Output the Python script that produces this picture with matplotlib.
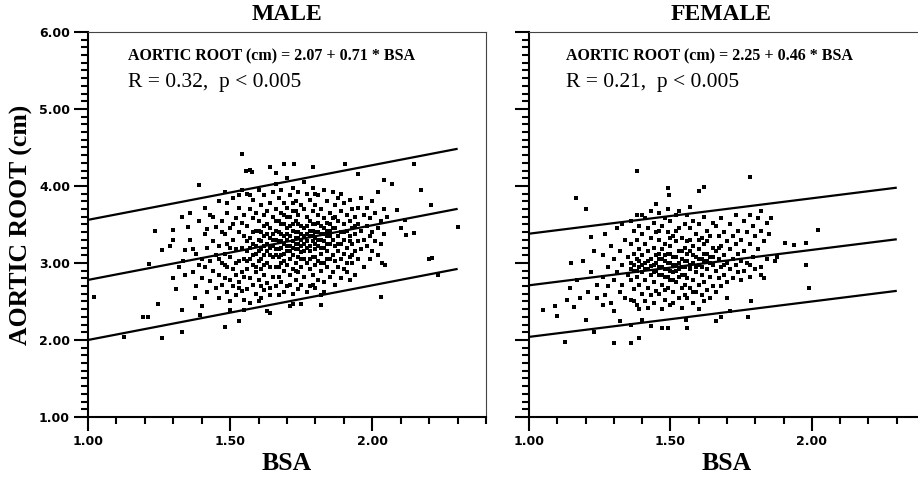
import numpy as np
import matplotlib
matplotlib.use('AGG')
import matplotlib.pyplot as plt
from matplotlib.collections import LineCollection
from matplotlib.ticker import FixedLocator, FormatStrFormatter, NullFormatter, NullLocator

# ---- data ----
panel_titles = ["MALE", "FEMALE"]
equations = ["AORTIC ROOT (cm) = 2.07 + 0.71 * BSA", "AORTIC ROOT (cm) = 2.25 + 0.46 * BSA"]
stats_text = ["R = 0.32,  p < 0.005", "R = 0.21,  p < 0.005"]

male_intercept, male_slope, male_band = 2.07, 0.71, 0.78
female_intercept, female_slope, female_band = 2.25, 0.46, 0.67
fit_bsa_range = [1.00, 2.30]

xtick_major = [1.00, 1.50, 2.00]
ytick_major = [1.00, 2.00, 3.00, 4.00, 5.00, 6.00]

# male (BSA, aortic root) - outliers first, then the cloud
male_points = [
    (1.02, 2.56), (1.125, 2.04), (1.26, 2.03), (1.33, 2.11), (1.195, 2.30), (1.21, 2.30),
    (1.245, 2.47), (1.33, 2.39), (1.235, 3.42), (1.26, 3.17), (1.215, 2.99), (1.30, 3.43),
    (1.30, 3.30), (1.35, 3.47), (1.39, 4.01), (1.335, 3.02), (1.34, 3.17), (1.31, 2.66),
    (1.375, 2.54), (1.395, 2.32), (1.40, 2.44), (1.48, 2.17), (1.53, 2.25), (1.54, 4.42),
    (1.555, 4.19), (1.57, 4.21), (1.575, 4.18), (1.64, 4.25), (1.66, 4.17), (1.69, 4.29),
    (1.725, 4.28), (1.79, 4.25), (1.905, 4.29), (1.95, 4.16), (2.145, 4.29), (2.04, 4.08),
    (2.07, 4.03), (2.17, 3.95), (2.205, 3.75), (2.30, 3.47), (2.087, 3.69), (2.116, 3.56),
    (2.10, 3.45), (2.12, 3.36), (2.145, 3.39), (2.21, 3.06), (2.20, 3.05), (2.23, 2.84),
    (2.03, 2.56), (2.035, 3.00), (2.045, 2.97), (1.75, 2.47), (1.71, 2.44), (1.72, 2.47),
    (1.82, 2.46), (1.63, 2.37), (1.64, 2.35), (1.50, 2.39), (1.55, 2.39), (1.29, 3.22),
    (1.32, 2.95), (1.33, 3.60), (1.30, 2.80), (1.34, 2.85),
    (1.36, 3.30), (1.37, 2.88), (1.38, 3.12), (1.38, 2.70), (1.39, 3.55), (1.40, 3.05),
    (1.40, 2.80), (1.41, 3.38), (1.41, 2.95), (1.42, 3.20), (1.42, 2.62), (1.43, 3.62),
    (1.43, 3.02), (1.43, 2.76), (1.44, 3.28), (1.44, 2.90), (1.45, 3.47), (1.45, 3.10),
    (1.45, 2.68), (1.36, 3.65), (1.39, 2.98), (1.41, 3.72), (1.42, 3.44), (1.44, 3.60),
    (1.37, 3.18),
    (1.46, 3.80), (1.46, 3.22), (1.46, 2.85), (1.46, 2.55), (1.47, 3.55), (1.47, 3.00),
    (1.47, 2.72), (1.48, 3.92), (1.48, 3.38), (1.48, 3.12), (1.48, 2.80), (1.49, 3.65),
    (1.49, 3.25), (1.49, 2.95), (1.49, 2.62), (1.50, 3.45), (1.50, 3.08), (1.50, 2.78),
    (1.50, 2.50), (1.51, 3.85), (1.51, 3.30), (1.51, 2.92), (1.51, 2.70), (1.52, 3.58),
    (1.52, 3.18), (1.52, 2.85), (1.52, 2.58), (1.53, 3.72), (1.53, 3.40), (1.53, 3.02),
    (1.53, 2.75), (1.54, 3.95), (1.54, 3.52), (1.54, 3.20), (1.54, 2.88), (1.54, 2.64),
    (1.55, 3.62), (1.55, 3.35), (1.55, 3.05), (1.55, 2.82), (1.47, 3.40), (1.49, 3.78),
    (1.50, 3.20), (1.52, 3.00), (1.53, 2.68), (1.55, 2.52), (1.46, 3.05), (1.51, 3.50),
    (1.53, 3.88), (1.48, 2.98),
    (1.56, 3.90), (1.56, 3.48), (1.56, 3.15), (1.56, 2.92), (1.56, 2.66), (1.57, 3.70),
    (1.57, 3.32), (1.57, 3.05), (1.57, 2.80), (1.57, 2.48), (1.58, 3.82), (1.58, 3.58),
    (1.58, 3.25), (1.58, 2.98), (1.58, 2.72), (1.59, 3.65), (1.59, 3.42), (1.59, 3.12),
    (1.59, 2.88), (1.59, 2.60), (1.60, 3.95), (1.60, 3.55), (1.60, 3.30), (1.60, 3.02),
    (1.60, 2.78), (1.61, 3.75), (1.61, 3.40), (1.61, 3.18), (1.61, 2.92), (1.61, 2.55),
    (1.62, 3.88), (1.62, 3.62), (1.62, 3.35), (1.62, 3.10), (1.62, 2.85), (1.62, 2.65),
    (1.63, 3.50), (1.63, 3.24), (1.63, 3.00), (1.63, 2.74), (1.64, 3.78), (1.64, 3.45),
    (1.64, 3.20), (1.64, 2.95), (1.64, 2.68), (1.65, 3.92), (1.65, 3.60), (1.65, 3.30),
    (1.65, 3.08), (1.65, 2.82), (1.56, 3.28), (1.57, 3.88), (1.58, 3.40), (1.59, 3.22),
    (1.60, 3.15), (1.60, 2.50), (1.61, 3.28), (1.62, 3.22), (1.63, 3.68), (1.63, 3.38),
    (1.64, 3.10), (1.65, 3.38), (1.58, 3.10), (1.59, 2.95), (1.61, 3.05), (1.62, 2.98),
    (1.63, 3.15), (1.64, 3.32), (1.65, 3.22), (1.57, 3.20), (1.60, 3.42), (1.62, 3.48),
    (1.64, 2.58), (1.56, 3.02), (1.61, 2.70),
    (1.66, 4.02), (1.66, 3.70), (1.66, 3.42), (1.66, 3.18), (1.66, 2.95), (1.66, 2.70),
    (1.67, 3.85), (1.67, 3.55), (1.67, 3.28), (1.67, 3.08), (1.67, 2.82), (1.67, 2.58),
    (1.68, 3.95), (1.68, 3.65), (1.68, 3.38), (1.68, 3.20), (1.68, 3.00), (1.68, 2.75),
    (1.69, 3.78), (1.69, 3.50), (1.69, 3.25), (1.69, 3.12), (1.69, 2.90), (1.69, 2.62),
    (1.70, 4.10), (1.70, 3.72), (1.70, 3.45), (1.70, 3.30), (1.70, 3.15), (1.70, 2.98),
    (1.70, 2.70), (1.71, 3.88), (1.71, 3.60), (1.71, 3.35), (1.71, 3.22), (1.71, 3.05),
    (1.71, 2.85), (1.72, 3.98), (1.72, 3.68), (1.72, 3.42), (1.72, 3.28), (1.72, 3.10),
    (1.72, 2.92), (1.72, 2.60), (1.73, 3.80), (1.73, 3.55), (1.73, 3.32), (1.73, 3.18),
    (1.73, 3.00), (1.73, 2.78), (1.74, 3.92), (1.74, 3.62), (1.74, 3.40), (1.74, 3.25),
    (1.74, 3.08), (1.74, 2.88), (1.74, 2.66), (1.75, 3.75), (1.75, 3.48), (1.75, 3.30),
    (1.75, 3.14), (1.75, 2.95), (1.75, 2.72), (1.66, 3.30), (1.67, 3.40), (1.68, 3.28),
    (1.69, 3.35), (1.70, 3.22), (1.71, 3.15), (1.72, 3.20), (1.73, 3.25), (1.74, 3.32),
    (1.75, 3.22), (1.66, 3.10), (1.67, 3.18), (1.68, 3.10), (1.69, 3.02), (1.70, 3.38),
    (1.71, 3.48), (1.72, 3.50), (1.73, 3.40), (1.74, 3.18), (1.75, 3.38), (1.67, 2.95),
    (1.69, 3.62), (1.71, 2.72), (1.73, 2.90), (1.75, 3.05), (1.68, 3.50), (1.70, 3.60),
    (1.72, 3.78), (1.74, 3.50), (1.66, 3.55), (1.73, 3.68),
    (1.76, 4.05), (1.76, 3.70), (1.76, 3.45), (1.76, 3.25), (1.76, 3.05), (1.76, 2.82),
    (1.77, 3.90), (1.77, 3.60), (1.77, 3.38), (1.77, 3.20), (1.77, 3.00), (1.77, 2.62),
    (1.78, 3.82), (1.78, 3.55), (1.78, 3.35), (1.78, 3.15), (1.78, 2.92), (1.78, 2.70),
    (1.79, 3.98), (1.79, 3.68), (1.79, 3.42), (1.79, 3.28), (1.79, 3.08), (1.79, 2.85),
    (1.80, 3.75), (1.80, 3.50), (1.80, 3.32), (1.80, 3.18), (1.80, 2.98), (1.80, 2.68),
    (1.81, 3.88), (1.81, 3.62), (1.81, 3.40), (1.81, 3.22), (1.81, 3.02), (1.81, 2.78),
    (1.82, 3.70), (1.82, 3.48), (1.82, 3.30), (1.82, 3.12), (1.82, 2.90), (1.82, 2.58),
    (1.83, 3.95), (1.83, 3.58), (1.83, 3.38), (1.83, 3.20), (1.83, 3.00), (1.83, 2.75),
    (1.84, 3.80), (1.84, 3.52), (1.84, 3.35), (1.84, 3.15), (1.84, 2.95), (1.85, 3.65),
    (1.85, 3.42), (1.85, 3.25), (1.85, 3.05), (1.85, 2.82), (1.76, 3.35), (1.77, 3.28),
    (1.78, 3.42), (1.79, 3.35), (1.80, 3.40), (1.81, 3.30), (1.82, 3.38), (1.83, 3.28),
    (1.84, 3.42), (1.85, 3.35), (1.76, 3.15), (1.78, 3.22), (1.80, 3.25), (1.82, 3.20),
    (1.84, 3.25), (1.77, 3.48), (1.79, 3.50), (1.81, 3.52), (1.83, 3.45), (1.85, 3.50),
    (1.78, 3.05), (1.80, 3.08), (1.82, 3.00), (1.84, 3.05), (1.79, 2.72), (1.83, 2.62),
    (1.80, 3.90),
    (1.86, 3.92), (1.86, 3.58), (1.86, 3.30), (1.86, 3.10), (1.86, 2.88), (1.87, 3.75),
    (1.87, 3.45), (1.87, 3.22), (1.87, 3.02), (1.87, 2.72), (1.88, 3.85), (1.88, 3.55),
    (1.88, 3.35), (1.88, 3.15), (1.88, 2.95), (1.89, 3.68), (1.89, 3.40), (1.89, 3.25),
    (1.89, 3.05), (1.89, 2.80), (1.90, 3.78), (1.90, 3.50), (1.90, 3.30), (1.90, 3.12),
    (1.90, 2.92), (1.91, 3.62), (1.91, 3.42), (1.91, 3.20), (1.91, 3.00), (1.92, 3.82),
    (1.92, 3.55), (1.92, 3.35), (1.92, 3.08), (1.92, 2.78), (1.93, 3.70), (1.93, 3.45),
    (1.93, 3.25), (1.93, 3.10), (1.94, 3.60), (1.94, 3.38), (1.94, 3.15), (1.94, 2.85),
    (1.95, 3.50), (1.95, 3.28), (1.95, 3.05), (1.86, 3.45), (1.88, 3.25), (1.90, 3.40),
    (1.92, 3.28), (1.94, 3.48), (1.87, 3.60), (1.89, 3.90), (1.91, 2.88), (1.93, 3.00),
    (1.95, 3.72),
    (1.96, 3.85), (1.96, 3.42), (1.96, 3.18), (1.97, 3.62), (1.97, 3.30), (1.97, 2.95),
    (1.98, 3.72), (1.98, 3.48), (1.98, 3.22), (1.99, 3.58), (1.99, 3.35), (1.99, 3.05),
    (2.00, 3.80), (2.00, 3.40), (2.00, 3.15), (2.01, 3.65), (2.01, 3.28), (2.02, 3.92),
    (2.02, 3.45), (2.02, 3.10), (2.03, 3.55), (2.03, 3.25), (2.04, 3.70), (2.04, 3.38),
    (2.05, 3.60),
]

female_points = [
    (1.38, 4.19), (1.78, 4.12), (1.49, 3.97), (1.495, 3.88), (1.60, 3.93), (1.62, 3.99),
    (1.166, 3.84), (1.20, 3.70), (1.43, 3.67), (1.45, 3.77), (1.46, 3.65), (1.57, 3.73),
    (1.82, 3.68), (1.855, 3.58), (2.02, 3.43), (1.905, 3.26), (1.935, 3.23), (1.98, 3.26),
    (1.98, 2.97), (1.99, 2.67), (1.87, 3.03), (1.875, 3.08), (1.78, 2.97), (1.82, 2.85),
    (1.83, 2.80), (1.785, 2.50), (1.775, 2.30), (1.15, 3.00), (1.22, 3.34), (1.145, 2.68),
    (1.135, 2.52), (1.05, 2.39), (1.09, 2.44), (1.10, 2.31), (1.16, 2.43), (1.20, 2.26),
    (1.23, 2.11), (1.127, 1.97), (1.30, 1.96), (1.36, 1.96), (1.39, 2.03), (1.30, 2.37),
    (1.32, 2.24), (1.47, 2.15), (1.49, 2.16), (1.56, 2.15), (1.555, 2.26), (1.66, 2.25),
    (1.68, 2.30), (1.71, 2.37), (1.36, 2.19), (1.40, 2.26), (1.43, 2.18),
    (1.17, 2.78), (1.19, 3.02), (1.21, 2.62), (1.22, 2.88), (1.23, 3.15), (1.24, 2.55),
    (1.24, 2.72), (1.18, 2.55),
    (1.26, 2.82), (1.26, 3.10), (1.27, 2.58), (1.27, 3.38), (1.28, 2.95), (1.28, 2.70),
    (1.29, 3.22), (1.29, 2.48), (1.30, 3.05), (1.30, 2.78), (1.31, 3.45), (1.31, 2.88),
    (1.32, 2.62), (1.32, 3.15), (1.33, 2.98), (1.33, 2.72), (1.34, 3.30), (1.34, 2.55),
    (1.35, 3.08), (1.35, 2.85), (1.26, 2.45), (1.33, 3.50),
    (1.36, 3.55), (1.36, 3.25), (1.36, 3.00), (1.36, 2.78), (1.36, 2.52), (1.37, 3.42),
    (1.37, 3.12), (1.37, 2.90), (1.37, 2.66), (1.38, 3.62), (1.38, 3.30), (1.38, 3.05),
    (1.38, 2.82), (1.38, 2.45), (1.39, 3.48), (1.39, 3.18), (1.39, 2.95), (1.39, 2.72),
    (1.40, 3.38), (1.40, 3.10), (1.40, 2.88), (1.40, 2.60), (1.41, 3.58), (1.41, 3.25),
    (1.41, 3.00), (1.41, 2.78), (1.41, 2.50), (1.42, 3.45), (1.42, 3.15), (1.42, 2.92),
    (1.42, 2.68), (1.43, 3.32), (1.43, 3.05), (1.43, 2.85), (1.43, 2.58), (1.44, 3.52),
    (1.44, 3.20), (1.44, 2.98), (1.44, 2.75), (1.45, 3.40), (1.45, 3.10), (1.45, 2.90),
    (1.45, 2.64), (1.36, 2.92), (1.37, 2.98), (1.38, 2.90), (1.39, 3.02), (1.40, 2.98),
    (1.41, 2.92), (1.42, 3.02), (1.43, 2.96), (1.44, 2.88), (1.45, 3.00), (1.37, 2.50),
    (1.39, 2.40), (1.42, 2.42), (1.44, 2.48), (1.40, 3.62),
    (1.46, 3.65), (1.46, 3.30), (1.46, 3.05), (1.46, 2.85), (1.46, 2.60), (1.47, 3.48),
    (1.47, 3.18), (1.47, 2.95), (1.47, 2.72), (1.48, 3.58), (1.48, 3.25), (1.48, 3.02),
    (1.48, 2.82), (1.48, 2.52), (1.49, 3.40), (1.49, 3.12), (1.49, 2.92), (1.49, 2.68),
    (1.50, 3.55), (1.50, 3.22), (1.50, 3.00), (1.50, 2.78), (1.50, 2.45), (1.51, 3.35),
    (1.51, 3.08), (1.51, 2.88), (1.51, 2.62), (1.52, 3.62), (1.52, 3.28), (1.52, 2.98),
    (1.52, 2.75), (1.53, 3.45), (1.53, 3.15), (1.53, 2.92), (1.53, 2.55), (1.54, 3.32),
    (1.54, 3.05), (1.54, 2.85), (1.54, 2.68), (1.55, 3.50), (1.55, 3.20), (1.55, 2.95),
    (1.55, 2.72), (1.46, 2.95), (1.47, 3.05), (1.48, 2.92), (1.49, 3.00), (1.50, 2.90),
    (1.51, 2.98), (1.52, 2.90), (1.53, 3.00), (1.54, 2.95), (1.55, 3.02), (1.46, 3.12),
    (1.48, 3.10), (1.50, 3.12), (1.52, 3.08), (1.54, 3.15), (1.47, 2.85), (1.49, 2.82),
    (1.51, 2.78), (1.53, 2.82), (1.55, 2.85), (1.47, 2.40), (1.51, 2.48), (1.54, 2.42),
    (1.49, 3.70), (1.53, 3.68), (1.46, 3.42), (1.50, 3.32), (1.52, 3.42), (1.48, 2.65),
    (1.55, 2.58),
    (1.56, 3.62), (1.56, 3.28), (1.56, 3.02), (1.56, 2.80), (1.56, 2.55), (1.57, 3.45),
    (1.57, 3.15), (1.57, 2.92), (1.57, 2.68), (1.58, 3.55), (1.58, 3.22), (1.58, 3.00),
    (1.58, 2.78), (1.58, 2.48), (1.59, 3.38), (1.59, 3.08), (1.59, 2.88), (1.59, 2.62),
    (1.60, 3.50), (1.60, 3.18), (1.60, 2.98), (1.60, 2.72), (1.61, 3.32), (1.61, 3.05),
    (1.61, 2.85), (1.61, 2.58), (1.62, 3.60), (1.62, 3.25), (1.62, 3.02), (1.62, 2.75),
    (1.63, 3.42), (1.63, 3.12), (1.63, 2.92), (1.63, 2.65), (1.64, 3.35), (1.64, 3.08),
    (1.64, 2.82), (1.65, 3.52), (1.65, 3.20), (1.65, 2.98), (1.65, 2.70), (1.56, 3.12),
    (1.58, 3.10), (1.60, 3.05), (1.62, 3.12), (1.64, 3.00), (1.57, 2.98), (1.59, 2.95),
    (1.61, 2.95), (1.63, 3.02), (1.65, 3.08), (1.57, 3.30), (1.60, 3.30), (1.63, 3.28),
    (1.58, 2.62), (1.62, 2.50), (1.64, 2.55), (1.60, 2.40),
    (1.66, 3.48), (1.66, 3.15), (1.66, 2.90), (1.66, 2.62), (1.67, 3.35), (1.67, 3.05),
    (1.67, 2.80), (1.68, 3.58), (1.68, 3.22), (1.68, 2.95), (1.68, 2.70), (1.69, 3.40),
    (1.69, 3.10), (1.69, 2.85), (1.70, 3.28), (1.70, 3.00), (1.70, 2.75), (1.70, 2.55),
    (1.71, 3.50), (1.71, 3.18), (1.71, 2.92), (1.72, 3.35), (1.72, 3.05), (1.72, 2.80),
    (1.73, 3.62), (1.73, 3.25), (1.73, 2.98), (1.74, 3.42), (1.74, 3.12), (1.74, 2.88),
    (1.75, 3.30), (1.75, 3.02), (1.75, 2.78), (1.67, 3.20), (1.69, 2.98),
    (1.76, 3.55), (1.76, 3.15), (1.76, 2.90), (1.77, 3.40), (1.77, 3.00), (1.78, 3.62),
    (1.78, 3.25), (1.78, 2.82), (1.79, 3.48), (1.79, 3.08), (1.80, 3.35), (1.80, 2.92),
    (1.81, 3.58), (1.81, 3.18), (1.82, 3.42), (1.82, 2.95), (1.83, 3.28), (1.84, 3.52),
    (1.84, 3.05), (1.85, 3.38),
]

# ---- figure ----
serif = ['Liberation Serif', 'DejaVu Serif']

fig = plt.figure(figsize=(9.18, 4.82), dpi=100)
ax_m = fig.add_axes([0.0959, 0.1349, 0.4336, 0.7988])
ax_f = fig.add_axes([0.5763, 0.1349, 0.4314, 0.7988])
axes = [ax_m, ax_f]

x_minor = np.arange(10, 25) / 10.0   # 1.0 .. 2.4
y_minor = np.arange(10, 61) / 10.0   # 1.0 .. 6.0

for i, ax in enumerate(axes):
    ax.set_xlim(1.0, 2.4)
    ax.set_ylim(1.0, 6.0)
    ax.xaxis.set_major_locator(FixedLocator(xtick_major))
    ax.yaxis.set_major_locator(FixedLocator(ytick_major))
    ax.xaxis.set_minor_locator(NullLocator())
    ax.yaxis.set_minor_locator(NullLocator())
    ax.xaxis.set_major_formatter(FormatStrFormatter('%.2f'))
    ax.yaxis.set_major_formatter(FormatStrFormatter('%.2f') if i == 0 else NullFormatter())
    # tick marks are drawn by hand below; keep the label spacing they need
    ax.tick_params(which='major', direction='out', length=10, width=0, pad=3,
                   labelsize=9, colors='black', top=False, right=False)
    for lbl in ax.get_xticklabels() + ax.get_yticklabels():
        lbl.set_fontweight('bold')
        lbl.set_fontfamily('DejaVu Sans')
    for side in ('left', 'bottom'):
        ax.spines[side].set_linewidth(1.5)
    for side in ('top', 'right'):
        ax.spines[side].set_linewidth(0.8)
        ax.spines[side].set_color('#444444')

    # hand-made tick marks (axes-fraction length, data position)
    ylen_major, ylen_minor = 0.035, 0.0175
    xlen_major, xlen_minor = 0.036, 0.018
    segs_y = [[(0, v), (-(ylen_major if v in ytick_major else ylen_minor), v)] for v in y_minor]
    segs_x = [[(v, 0), (v, -(xlen_major if v in xtick_major else xlen_minor))] for v in x_minor]
    ax.add_collection(LineCollection(segs_y, colors='black', linewidths=1.5,
                                     transform=ax.get_yaxis_transform(), clip_on=False))
    ax.add_collection(LineCollection(segs_x, colors='black', linewidths=1.5,
                                     transform=ax.get_xaxis_transform(), clip_on=False))

fits = [(male_intercept, male_slope, male_band), (female_intercept, female_slope, female_band)]
for ax, pts, (b0, b1, band) in zip(axes, [male_points, female_points], fits):
    bsa = np.array([p[0] for p in pts])
    root = np.array([p[1] for p in pts])
    ax.scatter(bsa, root, s=6.5, marker='s', color='black', linewidths=0)

    xf = np.array(fit_bsa_range)
    yf = b0 + b1 * xf
    for off in (-band, 0, band):
        ax.plot(xf, yf + off, color='black', lw=1.6, solid_capstyle='butt')

text_x = [0.10, 0.093]
title_x = [0.5, 0.485]
for i, ax in enumerate(axes):
    ax.text(text_x[i], 0.927, equations[i], transform=ax.transAxes,
            family=serif, weight='bold', fontsize=11.5, va='baseline')
    ax.text(text_x[i], 0.858, stats_text[i], transform=ax.transAxes,
            family=serif, fontsize=15.5, va='baseline')
    ax.text(title_x[i], 1.018, panel_titles[i], transform=ax.transAxes, ha='center',
            va='bottom', family=serif, weight='bold', fontsize=17)
    ax.set_xlabel("BSA", family=serif, weight='bold', fontsize=18.5, labelpad=3)

ax_m.set_ylabel("AORTIC ROOT (cm)", family=serif, weight='bold', fontsize=18.5, labelpad=4)

fig.savefig("out.png", dpi=100)
